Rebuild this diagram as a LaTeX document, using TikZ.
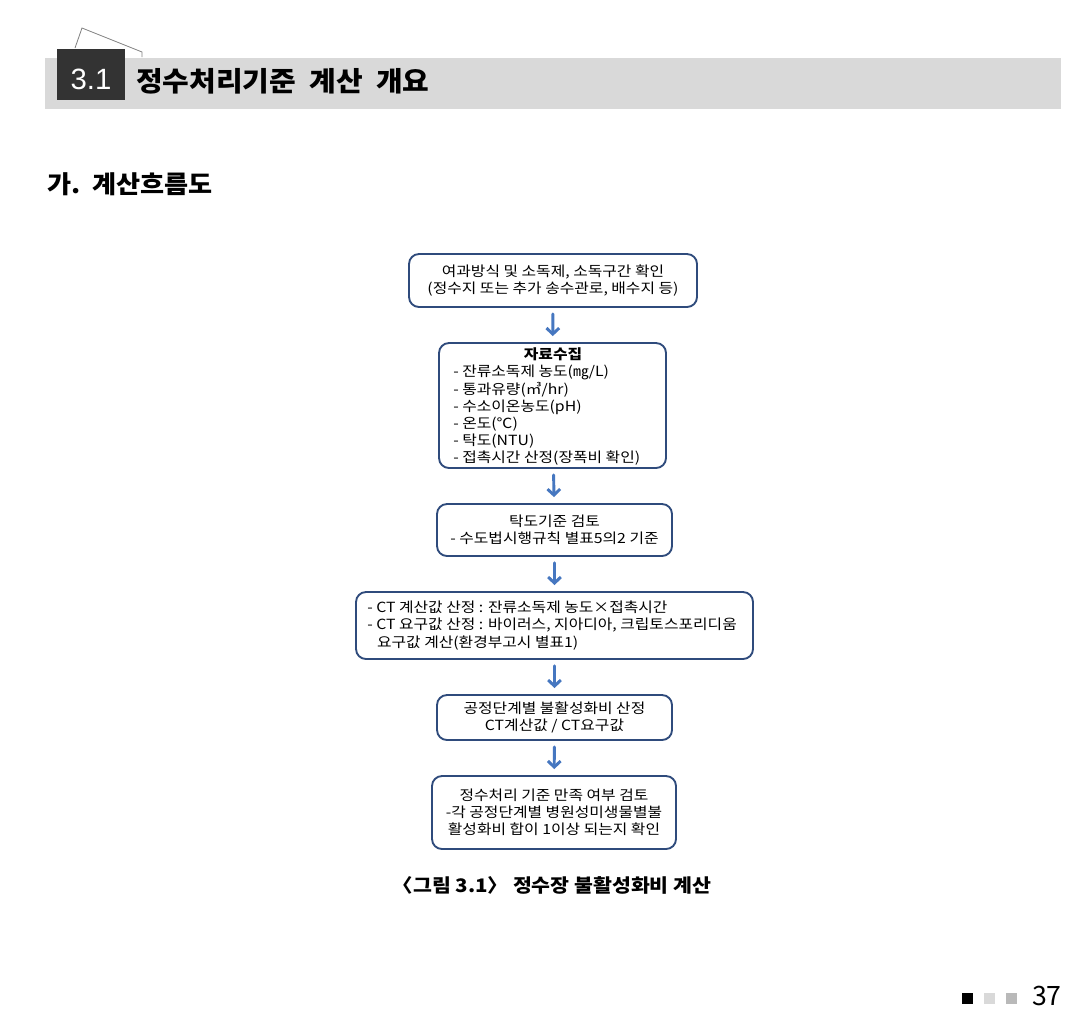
\documentclass[tikz,border=0pt]{standalone}
\usepackage{fontspec}
\setmainfont{Noto Sans CJK KR}
\newfontfamily\boxfont[FakeStretch=1.13]{Noto Sans CJK KR}
\newfontfamily\capfont[FakeStretch=1.1]{Noto Sans CJK KR}
\newfontfamily\headfont[FakeStretch=1.06]{Noto Sans CJK KR}
\newfontfamily\numfont{Liberation Sans}
\usetikzlibrary{arrows.meta}
\definecolor{boxline}{HTML}{2F4B7C}
\definecolor{arrowc}{HTML}{4677C0}
\definecolor{band}{HTML}{D9D9D9}
\definecolor{tabdark}{HTML}{333333}
\definecolor{tabline}{HTML}{808080}
\newcommand\pxu{0.75pt}
\begin{document}
\begin{tikzpicture}[x=0.75pt,y=-0.75pt,
  boxbase/.style={draw=boxline, line width=1.4pt, rounded corners=7.5pt, inner sep=0pt,
    font=\boxfont\fontsize{10.5}{12.9}\selectfont, align=center},
  boxtxt/.style={inner sep=0pt, font=\boxfont\fontsize{10.5}{12.9}\selectfont, align=left},
  flow/.style={draw=arrowc, line width=2.2pt, line cap=round,
    -{Straight Barb[length=4.5pt,width=9.5pt,line width=2.2pt]},
    shorten <=4.5pt, shorten >=4.5pt}]
\useasboundingbox (0,0) rectangle (1079,1018);
\fill[white] (0,0) rectangle (1079,1018);
% header
\draw[tabline, line width=0.6pt] (75,48) -- (82,28) -- (142,52) -- (142,57);
\fill[band] (45,58) rectangle (1061,109);
\fill[tabdark] (57,49) rectangle (125,100);
\node[text=white, font=\numfont\fontsize{22}{24}\selectfont] (secnum) at (91,79) {3.1};
\node[anchor=west, font=\headfont\fontsize{20.5}{22}\selectfont\bfseries, inner sep=0pt] (title) at (136,81) {정수처리기준\ \ 계산\ \ 개요};
\node[anchor=west, font=\headfont\fontsize{18.5}{20}\selectfont\bfseries, inner sep=0pt] (subtitle) at (47,184) {가.\ \ 계산흐름도};
% boxes
\node[boxbase, minimum width={288*\pxu}, minimum height={53*\pxu}] (b1) at (553,280.5)
  {여과방식 및 소독제, 소독구간 확인\\(정수지 또는 추가 송수관로, 배수지 등)};
\node[boxbase, minimum width={227*\pxu}, minimum height={125*\pxu}] (b2) at (552.5,405.5) {};
\node[boxtxt, font=\boxfont\fontsize{10.5}{12.9}\selectfont\bfseries] (b2t) at (553,354) {자료수집};
\node[boxtxt, anchor=north west] (b2l) at (453,365)
  {- 잔류소독제 농도(㎎/L)\\- 통과유량(㎥/hr)\\- 수소이온농도(pH)\\- 온도(℃)\\- 탁도(NTU)\\- 접촉시간 산정(장폭비 확인)};
\node[boxbase, minimum width={235*\pxu}, minimum height={52*\pxu}] (b3) at (554.5,530)
  {탁도기준 검토\\- 수도법시행규칙 별표5의2 기준};
\node[boxbase, minimum width={397*\pxu}, minimum height={67*\pxu}] (b4) at (554.5,625.5) {};
\node[boxtxt, anchor=west] (b4l) at (367,625.5)
  {- CT 계산값 산정 : 잔류소독제 농도×접촉시간\\- CT 요구값 산정 : 바이러스, 지아디아, 크립토스포리디움\\\hspace*{0.7em}요구값 계산(환경부고시 별표1)};
\node[boxbase, minimum width={235*\pxu}, minimum height={45*\pxu}] (b5) at (554.5,717.5)
  {공정단계별 불활성화비 산정\\CT계산값 / CT요구값};
\node[boxbase, minimum width={244*\pxu}, minimum height={73*\pxu}] (b6) at (554,812.5)
  {정수처리 기준 만족 여부 검토\\-각 공정단계별 병원성미생물별불\\활성화비 합이 1이상 되는지 확인};
% arrows
\draw[flow] (b1) -- (b2);
\draw[flow] (b2) -- (b3);
\draw[flow] (b3) -- (b4);
\draw[flow] (b4) -- (b5);
\draw[flow] (b5) -- (b6);
% caption
\node[font=\capfont\fontsize{14}{16}\selectfont\bfseries, inner sep=0pt] (cap) at (552,885) {〈그림 3.1〉\ 정수장\ 불활성화비\ 계산};
% footer
\fill[black] (962,993) rectangle (973,1004);
\fill[band] (984,993) rectangle (995,1004);
\fill[gray!55] (1006,993) rectangle (1017,1004);
\node[anchor=east, font=\fontsize{20}{22}\selectfont, inner sep=0pt] (pnum) at (1062,996) {37};
\end{tikzpicture}
\end{document}
